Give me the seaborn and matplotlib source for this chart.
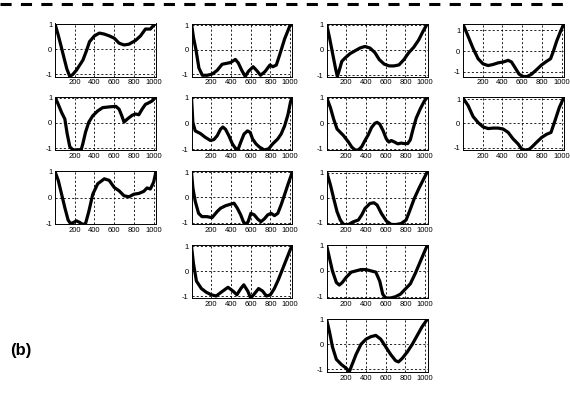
import matplotlib
matplotlib.use("Agg")
import matplotlib.pyplot as plt
import seaborn as sns
from matplotlib.lines import Line2D

sns.set_style("white")
plt.rcParams["font.family"] = ["Liberation Sans", "DejaVu Sans"]
plt.rcParams["axes.unicode_minus"] = False
plt.rcParams["lines.scale_dashes"] = False
plt.rcParams["text.color"] = "black"

# ---- curves (sample index vs. normalised amplitude) ----
x_r1c1 = [0, 30, 60, 90, 120, 150, 180, 217, 250, 283, 320, 350, 400, 450, 500, 550, 600, 650, 700, 750, 817, 867, 917, 967, 1000, 1024]
y_r1c1 = [1.0, 0.6, 0.15, -0.32, -0.78, -1.08, -1.0, -0.83, -0.63, -0.43, -0.05, 0.3, 0.53, 0.64, 0.6, 0.53, 0.44, 0.24, 0.17, 0.2, 0.35, 0.53, 0.8, 0.8, 0.95, 1.02]

x_r1c2 = [0, 20, 45, 75, 110, 160, 210, 260, 310, 345, 395, 445, 475, 510, 545, 575, 625, 660, 700, 745, 795, 825, 860, 895, 945, 995, 1024]
y_r1c2 = [1.07, 0.5, 0.0, -0.75, -1.05, -1.05, -1.0, -0.85, -0.6, -0.57, -0.53, -0.4, -0.55, -0.85, -1.1, -0.9, -0.7, -0.85, -1.05, -0.9, -0.63, -0.7, -0.63, -0.2, 0.45, 0.95, 1.07]

x_r1c3 = [0, 30, 60, 90, 110, 135, 155, 190, 240, 290, 340, 390, 440, 490, 535, 585, 635, 685, 735, 785, 835, 885, 935, 980, 1024]
y_r1c3 = [1.05, 0.5, -0.1, -0.7, -1.05, -0.73, -0.45, -0.31, -0.14, -0.03, 0.08, 0.14, 0.08, -0.1, -0.38, -0.56, -0.63, -0.63, -0.59, -0.38, -0.1, 0.11, 0.4, 0.75, 1.05]

x_r1c4 = [0, 51, 102, 153, 203, 254, 305, 356, 407, 458, 492, 525, 569, 610, 651, 695, 746, 797, 847, 888, 915, 949, 983, 1024]
y_r1c4 = [1.3, 0.72, 0.13, -0.37, -0.62, -0.7, -0.65, -0.57, -0.53, -0.45, -0.53, -0.78, -1.12, -1.23, -1.23, -1.12, -0.9, -0.67, -0.5, -0.37, -0.03, 0.47, 0.88, 1.33]

x_r2c1 = [0, 33, 67, 100, 123, 150, 183, 233, 267, 283, 310, 343, 383, 433, 483, 550, 617, 650, 677, 700, 733, 783, 817, 850, 883, 917, 950, 983, 1024]
y_r2c1 = [1.02, 0.73, 0.41, 0.15, -0.42, -0.94, -1.07, -1.07, -1.04, -0.81, -0.36, 0.03, 0.28, 0.47, 0.6, 0.63, 0.65, 0.54, 0.28, 0.03, 0.15, 0.3, 0.35, 0.32, 0.54, 0.73, 0.79, 0.86, 1.02]

x_r2c2 = [0, 14, 38, 89, 140, 191, 226, 260, 294, 318, 345, 379, 414, 448, 475, 499, 533, 568, 595, 619, 653, 687, 738, 783, 824, 875, 909, 944, 978, 1005, 1024]
y_r2c2 = [1.0, 0.03, -0.29, -0.39, -0.54, -0.66, -0.63, -0.48, -0.23, -0.14, -0.23, -0.48, -0.79, -0.98, -0.98, -0.73, -0.41, -0.29, -0.35, -0.6, -0.79, -0.91, -1.03, -0.98, -0.79, -0.6, -0.41, -0.1, 0.34, 0.85, 1.02]

x_r2c3 = [0, 40, 73, 107, 140, 173, 223, 257, 290, 323, 357, 390, 423, 457, 490, 513, 540, 573, 607, 633, 657, 690, 723, 757, 790, 823, 850, 880, 910, 950, 990, 1024]
y_r2c3 = [1.02, 0.6, 0.15, -0.23, -0.36, -0.49, -0.74, -0.94, -1.05, -1.05, -0.92, -0.68, -0.46, -0.17, -0.01, 0.03, -0.04, -0.29, -0.62, -0.74, -0.68, -0.74, -0.81, -0.78, -0.8, -0.8, -0.65, -0.2, 0.2, 0.55, 0.85, 1.02]

x_r2c4 = [0, 51, 102, 153, 203, 254, 305, 356, 407, 458, 508, 559, 593, 627, 661, 695, 746, 797, 847, 892, 932, 976, 1024]
y_r2c4 = [1.05, 0.75, 0.29, 0.04, -0.14, -0.21, -0.19, -0.19, -0.23, -0.37, -0.64, -0.85, -1.05, -1.1, -1.1, -0.99, -0.78, -0.58, -0.45, -0.37, 0.11, 0.66, 1.1]

x_r3c1 = [0, 33, 67, 100, 133, 157, 183, 217, 250, 283, 310, 343, 383, 433, 500, 550, 600, 650, 700, 750, 800, 850, 900, 933, 967, 1000, 1024]
y_r3c1 = [1.0, 0.66, 0.13, -0.39, -0.86, -0.99, -0.96, -0.89, -0.95, -1.03, -0.99, -0.53, 0.13, 0.53, 0.72, 0.66, 0.39, 0.26, 0.07, 0.03, 0.13, 0.16, 0.24, 0.37, 0.33, 0.59, 1.0]

x_r3c2 = [0, 14, 38, 72, 106, 157, 208, 260, 294, 345, 397, 431, 465, 499, 526, 550, 574, 602, 636, 670, 704, 738, 773, 807, 841, 875, 909, 944, 978, 1024]
y_r3c2 = [1.0, 0.37, -0.16, -0.63, -0.76, -0.76, -0.8, -0.56, -0.43, -0.33, -0.27, -0.23, -0.43, -0.69, -0.96, -1.07, -0.96, -0.63, -0.69, -0.85, -0.96, -0.85, -0.69, -0.63, -0.72, -0.63, -0.29, 0.11, 0.51, 1.02]

x_r3c3 = [0, 40, 73, 107, 140, 173, 223, 273, 323, 357, 390, 440, 480, 513, 557, 607, 657, 707, 757, 807, 840, 890, 940, 985, 1024]
y_r3c3 = [1.05, 0.51, -0.03, -0.56, -0.89, -1.07, -1.07, -0.96, -0.89, -0.69, -0.43, -0.23, -0.2, -0.29, -0.63, -0.93, -1.07, -1.07, -1.03, -0.89, -0.56, -0.03, 0.4, 0.75, 1.05]

x_r4c2 = [0, 20, 50, 100, 150, 200, 250, 300, 370, 420, 460, 500, 530, 570, 600, 630, 680, 720, 760, 800, 840, 880, 920, 960, 1000, 1024]
y_r4c2 = [1.0, 0.3, -0.4, -0.7, -0.85, -0.95, -1.0, -0.85, -0.65, -0.8, -0.95, -0.7, -0.55, -0.8, -1.08, -0.95, -0.7, -0.8, -1.0, -0.95, -0.7, -0.35, 0.05, 0.45, 0.85, 1.05]

x_r4c3 = [0, 30, 60, 100, 130, 160, 200, 250, 300, 350, 400, 450, 500, 540, 570, 600, 650, 700, 750, 800, 850, 900, 950, 1000, 1024]
y_r4c3 = [1.0, 0.5, 0.0, -0.45, -0.55, -0.45, -0.25, -0.05, 0.0, 0.05, 0.05, 0.0, -0.05, -0.4, -0.9, -1.05, -1.05, -1.0, -0.9, -0.7, -0.5, -0.1, 0.35, 0.8, 1.0]

x_r5c3 = [0, 30, 60, 100, 150, 200, 230, 260, 300, 350, 400, 450, 500, 550, 600, 650, 700, 730, 770, 820, 870, 920, 970, 1024]
y_r5c3 = [1.0, 0.5, -0.1, -0.6, -0.8, -0.95, -1.1, -0.8, -0.4, 0.0, 0.2, 0.3, 0.35, 0.2, -0.1, -0.4, -0.65, -0.7, -0.55, -0.3, 0.0, 0.35, 0.7, 1.0]

x_ticks = [200, 400, 600, 800, 1000]
y_ticks = [-1, 0, 1]

# (row, column) grid slot for each curve
panels = [
    (0, 0, x_r1c1, y_r1c1), (0, 1, x_r1c2, y_r1c2), (0, 2, x_r1c3, y_r1c3), (0, 3, x_r1c4, y_r1c4),
    (1, 0, x_r2c1, y_r2c1), (1, 1, x_r2c2, y_r2c2), (1, 2, x_r2c3, y_r2c3), (1, 3, x_r2c4, y_r2c4),
    (2, 0, x_r3c1, y_r3c1), (2, 1, x_r3c2, y_r3c2), (2, 2, x_r3c3, y_r3c3),
    (3, 1, x_r4c2, y_r4c2), (3, 2, x_r4c3, y_r4c3),
    (4, 2, x_r5c3, y_r5c3),
]

W, H = 570, 394
col_left = [55, 191.5, 326.5, 463]
row_top = [23.5, 97, 171.5, 245, 319]
AW, AH = 101, 53

fig = plt.figure(figsize=(W / 100, H / 100), dpi=100)

for r, c, xs, ys in panels:
    ax = fig.add_axes([col_left[c] / W, 1 - (row_top[r] + AH) / H, AW / W, AH / H])
    sns.lineplot(x=xs, y=ys, ax=ax, color="black", lw=2.3, sort=False,
                 solid_joinstyle="round", solid_capstyle="round")
    ax.set_xlim(0, 1024)
    ax.set_ylim(min(ys), max(ys))
    ax.set_xticks(x_ticks)
    ax.set_yticks(y_ticks)
    ax.set_xticklabels([str(t) for t in x_ticks])
    ax.set_yticklabels([str(t) for t in y_ticks])
    ax.set_xlabel("")
    ax.set_ylabel("")
    ax.set_axisbelow(True)
    ax.grid(True, color="black", lw=0.6, ls=(0, (1.5, 1.5)))
    ax.tick_params(direction="in", length=2, width=0.5, labelsize=5.5, pad=2,
                   colors="black", labelcolor="black")
    for s in ax.spines.values():
        s.set_color("black")
        s.set_linewidth(0.7)

# dashed separator across the top
fig.add_artist(Line2D([0, 1], [1 - 3.5 / H, 1 - 3.5 / H], transform=fig.transFigure,
                      color="black", lw=2.2, dashes=(8, 6.7)))

fig.text(10 / W, 1 - 351 / H, "(b)", ha="left", va="center",
         fontsize=12, fontweight="bold", color="black")

fig.savefig("out.png", dpi=100)
